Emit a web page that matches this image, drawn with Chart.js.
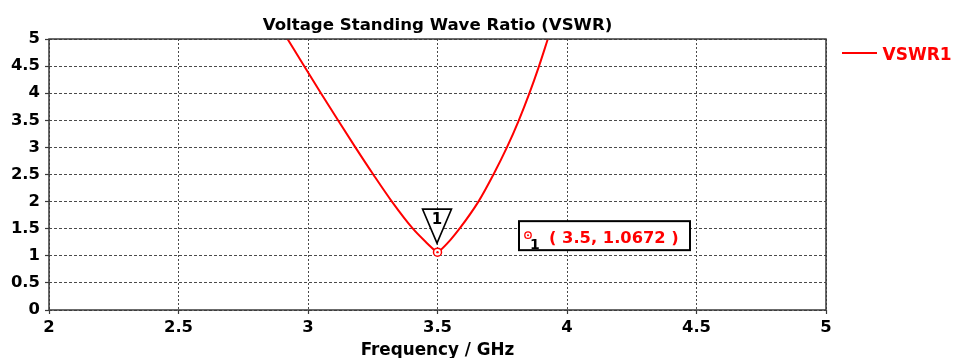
<!DOCTYPE html>
<html>
<head>
<meta charset="utf-8">
<title>Voltage Standing Wave Ratio (VSWR)</title>
<script src="https://cdn.jsdelivr.net/npm/chart.js@4/dist/chart.umd.min.js"></script>
<style>
  html, body { margin: 0; padding: 0; background: #ffffff; }
  #wrap { width: 954px; height: 358px; }
</style>
</head>
<body>
<div id="wrap"><canvas id="chart" width="954" height="358"></canvas></div>
<script>
// VSWR sweep (frequency in GHz)
const freqGHz = [2.880, 2.921, 2.985, 3.050, 3.116, 3.183, 3.252, 3.324, 3.405, 3.455, 3.490, 3.500,
                 3.510, 3.550, 3.585, 3.658, 3.716, 3.768, 3.814, 3.855, 3.892, 3.926, 3.960];
const vswr1   = [5.32, 5.00, 4.50, 4.00, 3.50, 3.00, 2.50, 2.00, 1.50, 1.254, 1.100, 1.0672,
                 1.100, 1.295, 1.50, 2.00, 2.50, 3.00, 3.50, 4.00, 4.50, 5.00, 5.50];

// Marker 1
const markerX = [3.5];
const markerY = [1.0672];
const markerName = '1';

// Axis ticks
const xTicks = [2, 2.5, 3, 3.5, 4, 4.5, 5];
const yTicks = [0, 0.5, 1, 1.5, 2, 2.5, 3, 3.5, 4, 4.5, 5];

const titleText = 'Voltage Standing Wave Ratio (VSWR)';
const xTitleText = 'Frequency / GHz';
const seriesName = 'VSWR1';

const FONT = '"DejaVu Sans", Verdana, sans-serif';
const RED = '#ff0000';
const GRID = '#4a4a4a';

const curve = freqGHz.map((f, i) => ({ x: f, y: vswr1[i] }));
const markerPts = markerX.map((f, i) => ({ x: f, y: markerY[i] }));

const fmt = v => String(v);

const decorations = {
  id: 'decorations',
  afterDraw(chart) {
    const ctx = chart.ctx;
    const area = chart.chartArea;
    const xs = chart.scales.x, ys = chart.scales.y;
    ctx.save();

    // plot frame
    ctx.strokeStyle = '#3a3a3a';
    ctx.lineWidth = 1.5;
    ctx.setLineDash([]);
    ctx.strokeRect(area.left, area.top, area.right - area.left, area.bottom - area.top);

    // title
    ctx.fillStyle = '#000';
    ctx.font = 'bold 16.6px ' + FONT;
    ctx.textAlign = 'center';
    ctx.textBaseline = 'alphabetic';
    ctx.fillText(titleText, (area.left + area.right) / 2, 30);

    // x axis title
    ctx.font = 'bold 16.8px ' + FONT;
    ctx.fillText(xTitleText, (area.left + area.right) / 2, 355);

    // legend
    ctx.strokeStyle = RED;
    ctx.lineWidth = 2;
    ctx.beginPath();
    ctx.moveTo(842, 53);
    ctx.lineTo(877, 53);
    ctx.stroke();
    ctx.fillStyle = RED;
    ctx.font = 'bold 17px ' + FONT;
    ctx.textAlign = 'left';
    ctx.fillText(seriesName, 882.5, 59.5);

    // marker annotations
    markerX.forEach((f, i) => {
      const v = markerY[i];
      const px = xs.getPixelForValue(f);
      const py = ys.getPixelForValue(v);

      // centre dot of the marker point
      ctx.fillStyle = RED;
      ctx.beginPath();
      ctx.arc(px, py, 1.2, 0, Math.PI * 2);
      ctx.fill();

      // flag triangle above the point
      ctx.fillStyle = '#fff';
      ctx.strokeStyle = '#000';
      ctx.lineWidth = 1.6;
      ctx.beginPath();
      ctx.moveTo(px - 15, py - 43);
      ctx.lineTo(px + 14, py - 43);
      ctx.lineTo(px - 0.5, py - 9);
      ctx.closePath();
      ctx.fill();
      ctx.stroke();
      ctx.fillStyle = '#000';
      ctx.font = 'bold 15px ' + FONT;
      ctx.textAlign = 'center';
      ctx.fillText(markerName, px - 0.5, py - 28);

      // value box
      const bx = px + 81.5, by = py - 31, bw = 171, bh = 29;
      ctx.fillStyle = '#fff';
      ctx.fillRect(bx, by, bw, bh);
      ctx.strokeStyle = '#000';
      ctx.lineWidth = 2;
      ctx.strokeRect(bx, by, bw, bh);

      // small marker symbol + index
      ctx.strokeStyle = RED;
      ctx.lineWidth = 1.3;
      ctx.beginPath();
      ctx.arc(bx + 9, by + 14, 3.2, 0, Math.PI * 2);
      ctx.stroke();
      ctx.fillStyle = RED;
      ctx.beginPath();
      ctx.arc(bx + 9, by + 14, 1, 0, Math.PI * 2);
      ctx.fill();
      ctx.fillStyle = '#000';
      ctx.font = 'bold 14px ' + FONT;
      ctx.textAlign = 'left';
      ctx.fillText(markerName, bx + 11, by + 28);

      ctx.fillStyle = RED;
      ctx.font = 'bold 16.3px ' + FONT;
      ctx.fillText('( ' + fmt(f) + ', ' + v.toFixed(4) + ' )', bx + 30, by + 21.5);
    });

    ctx.restore();
  }
};

new Chart(document.getElementById('chart'), {
  type: 'line',
  data: {
    datasets: [
      {
        label: seriesName,
        data: curve,
        borderColor: RED,
        borderWidth: 2,
        pointRadius: 0,
        fill: false,
        cubicInterpolationMode: 'monotone',
        order: 2
      },
      {
        label: 'Marker ' + markerName,
        data: markerPts,
        showLine: false,
        pointRadius: 4,
        pointStyle: 'circle',
        pointBackgroundColor: '#ffffff',
        pointBorderColor: RED,
        pointBorderWidth: 1.5,
        order: 1
      }
    ]
  },
  options: {
    responsive: false,
    animation: false,
    layout: { padding: { top: 39, right: 128, left: 0, bottom: 0 } },
    plugins: {
      legend: { display: false },
      title: { display: false },
      tooltip: { enabled: false }
    },
    scales: {
      x: {
        type: 'linear',
        min: 2, max: 5,
        afterFit(scale) { scale.height = 48; },
        afterBuildTicks(scale) { scale.ticks = xTicks.map(v => ({ value: v })); },
        ticks: {
          color: '#000',
          font: { family: FONT, size: 16.4, weight: 'bold' },
          padding: 4,
          maxRotation: 0,
          autoSkip: false,
          callback: v => fmt(v)
        },
        grid: {
          color: GRID,
          lineWidth: 1,
          tickLength: 4,
          tickColor: '#3a3a3a',
          tickBorderDash: [],
          tickWidth: 1.2
        },
        border: { display: false, dash: [2, 2] }
      },
      y: {
        type: 'linear',
        min: 0, max: 5,
        afterFit(scale) { scale.width = 49; },
        afterBuildTicks(scale) { scale.ticks = yTicks.map(v => ({ value: v })); },
        ticks: {
          color: '#000',
          font: { family: FONT, size: 16.4, weight: 'bold' },
          padding: 5,
          autoSkip: false,
          callback: v => fmt(v)
        },
        grid: {
          color: GRID,
          lineWidth: 1,
          tickLength: 4,
          tickColor: '#3a3a3a',
          tickBorderDash: [],
          tickWidth: 1.2
        },
        border: { display: false, dash: [3, 2] }
      }
    }
  },
  plugins: [decorations]
});
</script>
</body>
</html>
